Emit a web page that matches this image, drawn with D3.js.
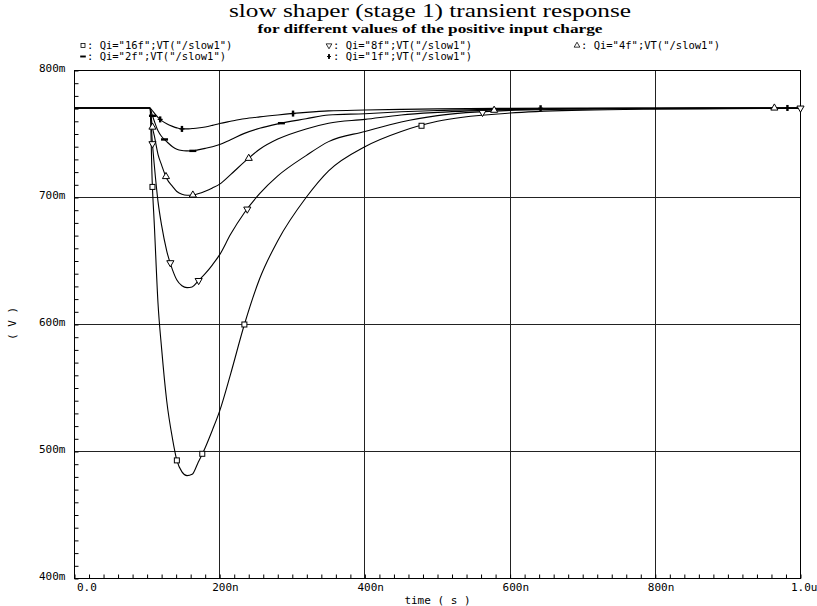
<!DOCTYPE html>
<html>
<head>
<meta charset="utf-8">
<script src="https://cdn.jsdelivr.net/npm/d3@7"></script>
<style>
  body { margin: 0; background: #fff; }
  svg { display: block; font-family: "DejaVu Sans Mono", monospace; }
</style>
</head>
<body>
<div id="chart"></div>
<script>
// time in ns, voltage in mV
const times = [0, 100, 104, 107, 110, 115, 120, 127, 135, 141, 148, 155, 162, 170, 180, 190, 200, 215, 234, 255, 280, 319, 350, 400, 450, 500, 600, 700, 800, 900, 1000];
const q16 = [770.5, 770.5, 770.5, 713, 678, 617, 581, 540, 510, 493, 484, 481, 482, 491, 503, 517, 532, 561, 600, 636, 666, 700, 721, 740, 752, 760, 766.5, 768.8, 769.6, 769.9, 770.2];
const q8 = [770.5, 770.5, 770.5, 745, 725, 697, 678, 658, 643, 635, 630.5, 629, 629.5, 634, 640, 647, 655, 671, 688, 703, 717, 733, 744, 752, 759.5, 764.5, 768.5, 769.6, 770.1, 770.3, 770.4];
const q4 = [770.5, 770.5, 770.5, 756.5, 748.5, 734, 725.5, 715, 708.7, 704.7, 702.5, 701.8, 701.8, 703, 705, 707.5, 710.5, 718, 728, 738, 746, 754, 758.5, 761.5, 765, 767, 769.2, 770, 770.3, 770.4, 770.5];
const q2 = [770.5, 770.5, 770.5, 765, 760, 752.5, 748, 744, 740, 738, 737, 736.7, 736.6, 737.5, 738.7, 740, 741.7, 745.5, 750.5, 754.5, 758, 762, 765, 766, 767.5, 768.5, 769.6, 770.1, 770.3, 770.4, 770.5];
const q1 = [770.5, 770.5, 770.5, 768.5, 766.5, 763, 760.5, 758, 756, 754.8, 754, 754, 754.3, 754.7, 755.5, 756.8, 758.3, 760, 762, 763.5, 765, 767, 768.2, 768.9, 769.4, 769.8, 770.2, 770.4, 770.5, 770.5, 770.5];

// times where the plotter put its symbols on each curve
const marks16 = [107.4, 141, 176, 234, 478];
const marks8 = [107.4, 132, 171, 238, 562, 1000];
const marks4 = [107.4, 126, 163, 240, 578, 964];
const marks2 = [107.4, 124, 163, 285];
const marks1 = [118, 148, 301, 642, 982];

const seriesNames = ["16f", "8f", "4f", "2f", "1f"];
const xTicks = [0, 200, 400, 600, 800, 1000];
const xTickLabels = ["0.0", "200n", "400n", "600n", "800n", "1.0u"];
const yTicks = [400, 500, 600, 700, 800];
const yTickLabels = ["400m", "500m", "600m", "700m", "800m"];

const series = [
  { name: seriesNames[0], values: q16, marks: marks16, sym: "square" },
  { name: seriesNames[1], values: q8, marks: marks8, sym: "down" },
  { name: seriesNames[2], values: q4, marks: marks4, sym: "up" },
  { name: seriesNames[3], values: q2, marks: marks2, sym: "hbar" },
  { name: seriesNames[4], values: q1, marks: marks1, sym: "vbar" }
];

const W = 817, H = 606;
const margin = { top: 70.5, right: 16.5, bottom: 27.5, left: 74.5 };
const width = W - margin.left - margin.right;
const height = H - margin.top - margin.bottom;

const root = d3.select("#chart").append("svg")
  .attr("width", W).attr("height", H);
root.append("rect").attr("width", W).attr("height", H).attr("fill", "#fff");

const svg = root.append("g")
  .attr("transform", `translate(${margin.left}, ${margin.top})`);

const x = d3.scaleLinear().domain([0, 1000]).range([0, width]);
const y = d3.scaleLinear().domain([400, 800]).range([height, 0]);

// grid
svg.append("g").selectAll("line").data(xTicks.slice(1, -1)).enter().append("line")
  .attr("x1", d => x(d)).attr("x2", d => x(d)).attr("y1", 0).attr("y2", height)
  .attr("stroke", "#222").attr("shape-rendering", "crispEdges");
svg.append("g").selectAll("line").data(yTicks.slice(1, -1)).enter().append("line")
  .attr("y1", d => y(d)).attr("y2", d => y(d)).attr("x1", 0).attr("x2", width)
  .attr("stroke", "#222").attr("shape-rendering", "crispEdges");

// minor ticks, inside the frame
svg.append("g")
  .attr("transform", `translate(0, ${height})`)
  .call(d3.axisBottom(x).tickValues(d3.range(0, 1001, 20)).tickSize(-4).tickFormat(""))
  .call(g => g.select(".domain").remove())
  .selectAll("line").attr("stroke", "#000");
svg.append("g")
  .call(d3.axisLeft(y).tickValues(d3.range(400, 801, 10)).tickSize(-4).tickFormat(""))
  .call(g => g.select(".domain").remove())
  .selectAll("line").attr("stroke", "#000");

// frame
svg.append("rect").attr("width", width).attr("height", height)
  .attr("fill", "none").attr("stroke", "#000").attr("shape-rendering", "crispEdges");

// tick labels
const xAxis = svg.append("g")
  .attr("transform", `translate(0, ${height})`)
  .call(d3.axisBottom(x).tickValues(xTicks).tickSize(0).tickPadding(5)
    .tickFormat((d, i) => xTickLabels[i]));
xAxis.select(".domain").remove();
xAxis.selectAll("text")
  .attr("font-family", "DejaVu Sans Mono").attr("font-size", 11)
  .attr("text-anchor", (d, i) => i === xTicks.length - 1 ? "end" : "start")
  .attr("dx", (d, i) => i === 0 ? 2 : (i === xTicks.length - 1 ? W - margin.left - x(d) : -8));

const yAxis = svg.append("g")
  .call(d3.axisLeft(y).tickValues(yTicks).tickSize(0).tickPadding(9)
    .tickFormat((d, i) => yTickLabels[i]));
yAxis.select(".domain").remove();
yAxis.selectAll("text")
  .attr("font-family", "DejaVu Sans Mono").attr("font-size", 11).attr("dy", "0.1em");

// axis titles
svg.append("text")
  .attr("x", width / 2).attr("y", height + 25)
  .attr("text-anchor", "middle").attr("font-size", 11)
  .text("time ( s )");
root.append("text")
  .attr("transform", `translate(16, ${margin.top + height / 2 - 1}) rotate(-90)`)
  .attr("text-anchor", "middle").attr("font-size", 11)
  .text("( V )");

// curves
const line = d3.line()
  .x((d, i) => x(times[i]))
  .y(d => y(d))
  .curve(d3.curveMonotoneX);

svg.append("g").selectAll("path").data(series).enter().append("path")
  .attr("d", d => line(d.values))
  .attr("fill", "none").attr("stroke", "#000").attr("stroke-width", 1.1);

// symbol helper
function drawSym(g, type) {
  if (type === "square") {
    g.append("rect").attr("x", -2.5).attr("y", -2.5).attr("width", 5).attr("height", 5)
      .attr("fill", "#fff").attr("stroke", "#000").attr("stroke-width", 1);
  } else if (type === "up" || type === "down") {
    g.append("path").attr("d", d3.symbol(d3.symbolTriangle, 22)())
      .attr("transform", type === "down" ? "rotate(180)" : null)
      .attr("fill", "#fff").attr("stroke", "#000").attr("stroke-width", 1);
  } else if (type === "hbar") {
    g.append("rect").attr("x", -3.5).attr("y", -1.2).attr("width", 7).attr("height", 2.4).attr("fill", "#000");
  } else {
    g.append("rect").attr("x", -1.2).attr("y", -3).attr("width", 2.4).attr("height", 6).attr("fill", "#000");
    g.append("rect").attr("x", -2.5).attr("y", -0.6).attr("width", 5).attr("height", 1.2).attr("fill", "#000");
  }
}

// value at time t, read along the series' points
const bis = d3.bisector(d => d).left;
function valueAt(vals, t) {
  const i = Math.max(1, Math.min(times.length - 1, bis(times, t)));
  const t0 = times[i - 1], t1 = times[i];
  return vals[i - 1] + (vals[i] - vals[i - 1]) * (t - t0) / (t1 - t0);
}

series.forEach(s => {
  s.marks.forEach(t => {
    const g = svg.append("g")
      .attr("transform", `translate(${x(t)}, ${y(valueAt(s.values, t))})`);
    drawSym(g, s.sym);
  });
});

// title
root.append("text")
  .attr("x", 430).attr("y", 17)
  .attr("text-anchor", "middle")
  .attr("font-family", "Liberation Serif").attr("font-size", 19)
  .attr("textLength", 402).attr("lengthAdjust", "spacingAndGlyphs")
  .text("slow shaper (stage 1) transient response");
root.append("text")
  .attr("x", 430).attr("y", 33)
  .attr("text-anchor", "middle")
  .attr("font-family", "Liberation Serif").attr("font-weight", "bold").attr("font-size", 12)
  .attr("textLength", 345).attr("lengthAdjust", "spacingAndGlyphs")
  .text("for different values of the positive input charge");

// legend
const legendCols = [79, 325, 573];
const legendRows = [49, 60];
const legend = root.append("g").selectAll("g").data(series).enter().append("g")
  .attr("transform", (d, i) => `translate(${legendCols[i % 3]}, ${legendRows[Math.floor(i / 3)]})`);
legend.each(function (d) { drawSym(d3.select(this).append("g").attr("transform", "translate(4, -3.5) scale(0.8)"), d.sym); });
legend.append("text")
  .attr("x", 8).attr("y", 0).attr("font-size", 10.5)
  .text(d => `: Qi="${d.name}";VT("/slow1")`);
</script>
</body>
</html>
